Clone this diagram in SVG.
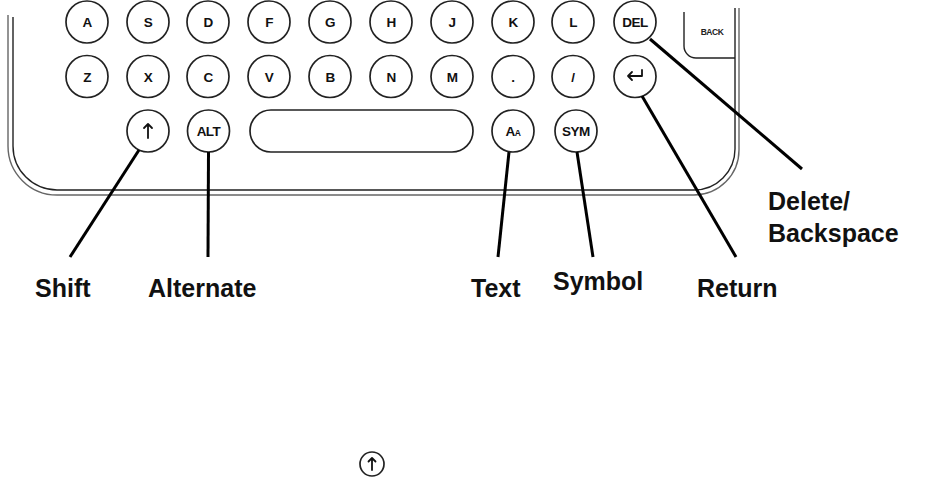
<svg xmlns="http://www.w3.org/2000/svg" width="936" height="489" viewBox="0 0 936 489">
<style>
.key{fill:#fff;stroke:#222;stroke-width:1.7}
.kt{font-family:"Liberation Sans",Arial,sans-serif;font-weight:bold;font-size:13.5px;fill:#111;text-anchor:middle;letter-spacing:-0.5px}
.lbl{font-family:"Liberation Sans",Arial,sans-serif;font-weight:bold;font-size:25px;fill:#111}
.lead{stroke:#000;stroke-width:3;fill:none;stroke-linecap:butt}
.outer{fill:none;stroke:#666;stroke-width:1.4}
.inner{fill:none;stroke:#222;stroke-width:1.4}
.ico{fill:none;stroke:#111;stroke-width:1.8;stroke-linecap:round;stroke-linejoin:round}
</style>
<rect width="936" height="489" fill="#fff"/>
<g id="device-outline">
<path class="outer" d="M8,15 V146 A49,49 0 0 0 57,195 H694 A45,45 0 0 0 739,150 V8"/>
<path class="inner" d="M13,17 V146 A44,44 0 0 0 57,190 H694 A41,41 0 0 0 735,149 V8"/>
</g>
<g id="key-back">
<path class="inner" d="M684,12 V46 A12,12 0 0 0 696,58 H735"/>
<text x="712" y="35" font-family="Liberation Sans,Arial,sans-serif" font-weight="bold" font-size="8.5" fill="#222" text-anchor="middle" letter-spacing="-0.5">BACK</text>
</g>
<g id="key-A"><circle class="key" cx="87" cy="22" r="21"/><text class="kt" x="87" y="27">A</text></g>
<g id="key-S"><circle class="key" cx="148" cy="22" r="21"/><text class="kt" x="148" y="27">S</text></g>
<g id="key-D"><circle class="key" cx="208" cy="22" r="21"/><text class="kt" x="208" y="27">D</text></g>
<g id="key-F"><circle class="key" cx="269" cy="22" r="21"/><text class="kt" x="269" y="27">F</text></g>
<g id="key-G"><circle class="key" cx="330" cy="22" r="21"/><text class="kt" x="330" y="27">G</text></g>
<g id="key-H"><circle class="key" cx="391" cy="22" r="21"/><text class="kt" x="391" y="27">H</text></g>
<g id="key-J"><circle class="key" cx="452" cy="22" r="21"/><text class="kt" x="452" y="27">J</text></g>
<g id="key-K"><circle class="key" cx="513" cy="22" r="21"/><text class="kt" x="513" y="27">K</text></g>
<g id="key-L"><circle class="key" cx="573" cy="22" r="21"/><text class="kt" x="573" y="27">L</text></g>
<g id="key-DEL"><circle class="key" cx="635" cy="22" r="21"/><text class="kt" x="635" y="27">DEL</text></g>
<g id="key-Z"><circle class="key" cx="87" cy="76.5" r="21"/><text class="kt" x="87" y="81.5">Z</text></g>
<g id="key-X"><circle class="key" cx="148" cy="76.5" r="21"/><text class="kt" x="148" y="81.5">X</text></g>
<g id="key-C"><circle class="key" cx="208" cy="76.5" r="21"/><text class="kt" x="208" y="81.5">C</text></g>
<g id="key-V"><circle class="key" cx="269" cy="76.5" r="21"/><text class="kt" x="269" y="81.5">V</text></g>
<g id="key-B"><circle class="key" cx="330" cy="76.5" r="21"/><text class="kt" x="330" y="81.5">B</text></g>
<g id="key-N"><circle class="key" cx="391" cy="76.5" r="21"/><text class="kt" x="391" y="81.5">N</text></g>
<g id="key-M"><circle class="key" cx="452" cy="76.5" r="21"/><text class="kt" x="452" y="81.5">M</text></g>
<g id="key-period"><circle class="key" cx="513" cy="76.5" r="21"/><text class="kt" x="513" y="81.5">.</text></g>
<g id="key-slash"><circle class="key" cx="573" cy="76.5" r="21"/><text class="kt" x="573" y="81.5">/</text></g>
<g id="key-return"><circle class="key" cx="635" cy="76.5" r="21"/><path class="ico" d="M642,70 V76 H628 M632,72 L628,76 L632,80"/></g>
<g id="key-shift"><circle class="key" cx="148" cy="131" r="21"/><path class="ico" d="M148,138 V124 M144,128 L148,124 L152,128"/></g>
<g id="key-ALT"><circle class="key" cx="208.5" cy="131" r="21"/><text class="kt" x="208.5" y="136">ALT</text></g>
<g id="key-space"><rect class="key" x="250" y="110" width="223" height="42" rx="21"/></g>
<g id="key-text"><circle class="key" cx="513" cy="131" r="21"/><text class="kt" x="513" y="136">A<tspan font-size="8.5">A</tspan></text></g>
<g id="key-SYM"><circle class="key" cx="576" cy="131" r="21"/><text class="kt" x="576" y="136">SYM</text></g>
<g id="connectors">
<line class="lead" x1="139" y1="150" x2="70" y2="257"/>
<line class="lead" x1="208.5" y1="152" x2="208" y2="257"/>
<line class="lead" x1="509" y1="152" x2="498" y2="257"/>
<line class="lead" x1="577" y1="152" x2="593" y2="257"/>
<line class="lead" x1="642" y1="96" x2="736" y2="257"/>
<line class="lead" x1="650" y1="39" x2="802" y2="169"/>
</g>
<g id="labels">
<text class="lbl" x="35" y="297">Shift</text>
<text class="lbl" x="148" y="297">Alternate</text>
<text class="lbl" x="471" y="297">Text</text>
<text class="lbl" x="553" y="290">Symbol</text>
<text class="lbl" x="697" y="297">Return</text>
<text class="lbl" x="768" y="210">Delete/</text>
<text class="lbl" x="768" y="242">Backspace</text>
</g>
<g id="shift-icon">
<circle class="key" cx="372" cy="464" r="12"/>
<path class="ico" d="M372,470 V458 M368.5,461.5 L372,458 L375.5,461.5"/>
</g>
</svg>
